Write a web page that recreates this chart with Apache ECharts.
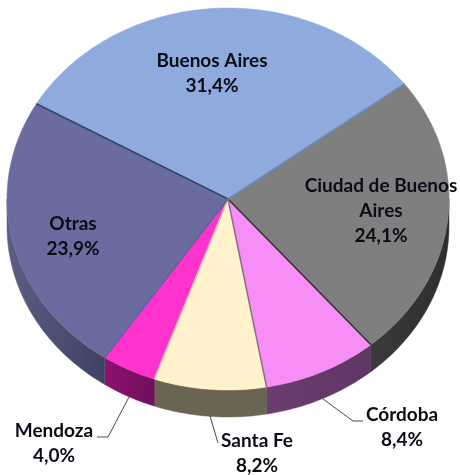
<!DOCTYPE html>
<html><head><meta charset="utf-8">
<style>html,body{margin:0;padding:0;background:#fff}#c{width:460px;height:475px}</style>
<script src="https://cdn.jsdelivr.net/npm/echarts@6/dist/echarts.min.js"></script>
</head><body><div id="c"></div>
<script>
const categories = ['Buenos Aires','Ciudad de Buenos\nAires','Córdoba','Santa Fe','Mendoza','Otras'];
const shares = [31.4,24.1,8.4,8.2,4.0,23.9];
const topColors = ['#8faadc','#7f7f7f','#f78ef7','#fff2cc','#ff33cc','#6b6b9f'];
const wallColors = [['#6a80a8','#6a80a8'],['#3a3a3a','#2e2e2e'],['#6b3d70','#5e3763'],['#6a6552','#6a6552'],['#8e1270','#6f0f5a'],['#5d5d85','#3f4162']];
const edgeColors = ['#35456a','#6f8ab8','#303030','#8a6a8a','#d8c8a8','#6060a0'];
const firstAngle = 299.9;
const cx=228, cy=199, rx=221, ry=191, depth=27;
const labelPos = [[212,73],[381,211],[402,427],[257,453],[54,443],[73,236]];
const leaders = [null,null,[[323,399],[353,421],[363,421]],[[210,416],[218,443]],[[129,397],[108,437],[97,437]],null];
const total = shares.reduce((a,b)=>a+b,0);
const starts = []; shares.reduce((a,v,i)=>(starts[i]=a%360,a+v/total*360),firstAngle);
const pt=(deg,dy=0)=>{const t=deg*Math.PI/180;return [cx+rx*Math.sin(t),cy-ry*Math.cos(t)+dy];};
function arc(a0,a1,dy){const n=Math.max(2,Math.ceil(Math.abs(a1-a0)));const o=[];for(let i=0;i<=n;i++)o.push(pt(a0+(a1-a0)*i/n,dy));return o;}
function wall(a0,a1){ // the visible side lies between 90 and 270 degrees
  const lo=Math.max(a0,90), hi=Math.min(a1,270);
  if(hi<=lo) return null;
  return arc(lo,hi,0).concat(arc(hi,lo,depth));
}
function renderItem(params,api){
  const i=params.dataIndex, a0=starts[i], a1=a0+api.value(1)/total*360;
  const children=[];
  const w=wall(a0,a1);
  if(w){
    children.push({type:'polygon',shape:{points:w},z2:1,style:{
      fill:new echarts.graphic.LinearGradient(0,0,1,0,[{offset:0,color:wallColors[i][0]},{offset:1,color:wallColors[i][1]}]),
      stroke:wallColors[i][0],lineWidth:0.5}});
  }
  children.push({type:'polygon',shape:{points:[[cx,cy]].concat(arc(a0,a1,0))},style:{fill:topColors[i],stroke:topColors[i],lineWidth:0.5},z2:2});
  children.push({type:'line',shape:{x1:cx,y1:cy,x2:pt(a0)[0],y2:pt(a0)[1]},style:{stroke:edgeColors[i],lineWidth:1.5},z2:3});
  if(leaders[i]) children.push({type:'polyline',shape:{points:leaders[i]},style:{stroke:'#4a4a4a',lineWidth:1,fill:null},z2:3});
  children.push({type:'text',x:labelPos[i][0],y:labelPos[i][1],z2:4,style:{
    text:categories[i]+'\n'+api.value(1).toFixed(1).replace('.',',')+'%',
    font:'bold 19px Lato',lineHeight:25,fill:'#0b0d16',align:'center',verticalAlign:'middle'}});
  return {type:'group',children};
}
const chart=echarts.init(document.getElementById('c'),null,{renderer:'canvas'});
chart.setOption({animation:false,backgroundColor:'#fff',
  series:[{type:'custom',coordinateSystem:'none',renderItem,
    data:shares.map((v,i)=>[i,v])}]});
</script></body></html>
